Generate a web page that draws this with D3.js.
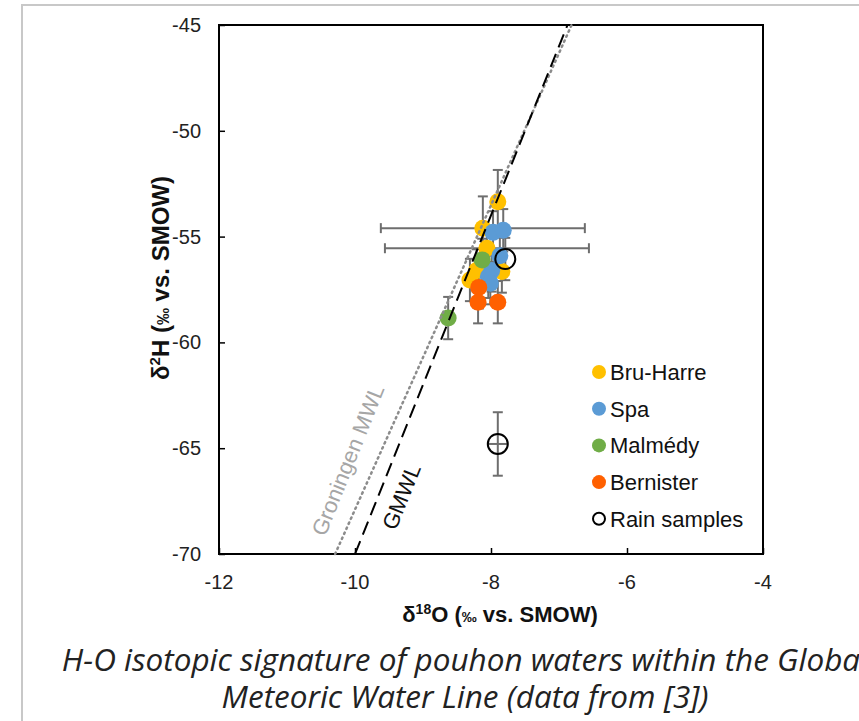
<!DOCTYPE html>
<html lang="en">
<head>
  <meta charset="UTF-8">
  <title>H-O isotopic signature of pouhon waters</title>
  <script src="https://d3js.org/d3.v7.min.js"></script>
  <style>
    body {
      margin: 0;
      background: #fff;
    }
    svg text {
      font-family: "Liberation Sans", Arial, sans-serif;
    }
    .tick-label {
      font-size: 20px;
      fill: #222;
    }
    .axis-title {
      font-weight: bold;
      fill: #111;
    }
    .legend-label {
      font-size: 22px;
      fill: #111;
    }
    .caption {
      font-family: "Open Sans", "Noto Sans", sans-serif;
      font-style: italic;
      font-size: 31.5px;
      fill: #222;
    }
  </style>
</head>
<body>
  <svg width="859" height="721"></svg>

  <script>
    // series: [d18O, d2H, xErr, yErr]
    const bruHarre = [
      [-7.90, -53.35, 0, 1.5],
      [-8.12, -54.6, 1.5, 1.5],
      [-8.06, -55.55, 1.5, 1.0],
      [-8.21, -56.6, 0, 1.0],
      [-8.31, -57.05, 0, 1.0],
      [-7.84, -56.65, 0, 1.0]
    ];
    const spa = [
      [-7.97, -54.8, 0, 1.0],
      [-7.82, -54.7, 0, 1.0],
      [-7.87, -55.9, 0, 1.0],
      [-7.99, -56.6, 0, 1.0],
      [-8.04, -56.9, 0, 1.0],
      [-8.01, -57.2, 0, 1.0]
    ];
    const malmedy = [
      [-8.13, -56.1, 0, 1.0],
      [-8.63, -58.85, 0, 1.0]
    ];
    const bernister = [
      [-8.18, -57.4, 0, 1.0],
      [-8.19, -58.1, 0, 1.0],
      [-7.90, -58.1, 0, 1.0]
    ];
    const rain = [
      [-7.79, -56.06, 0, 1.0],
      [-7.90, -64.8, 0.15, 1.5]
    ];

    const xTicks = [-12, -10, -8, -6, -4];
    const yTicks = [-70, -65, -60, -55, -50, -45];

    // meteoric water lines: slope, intercept
    const gmwl = [8, 10];
    const groningen = [7.19, 4.0];

    const series = [
      {name: "Bru-Harre", data: bruHarre, color: "#ffc000"},
      {name: "Spa", data: spa, color: "#5b9bd5"},
      {name: "Malmédy", data: malmedy, color: "#70ad47"},
      {name: "Bernister", data: bernister, color: "#ff6000"},
      {name: "Rain samples", data: rain, color: null}
    ];

    const svg = d3.select("svg");

    // page frame
    svg.append("rect")
      .attr("x", 22).attr("y", 5)
      .attr("width", 900).attr("height", 800)
      .attr("fill", "none")
      .attr("stroke", "#c8c8c8")
      .attr("stroke-width", 2);

    const x = d3.scaleLinear().domain([-12, -4]).range([219, 763]);
    const y = d3.scaleLinear().domain([-70, -45]).range([554, 25]);

    // axes with inside ticks
    svg.append("g")
      .attr("transform", `translate(0,${y(-70)})`)
      .call(d3.axisBottom(x).tickValues(xTicks).tickSize(-6).tickFormat(""))
      .call(g => g.select(".domain").remove())
      .call(g => g.selectAll("line").attr("stroke", "#000").attr("stroke-width", 1.5));

    svg.append("g")
      .attr("transform", `translate(${x(-12)},0)`)
      .call(d3.axisLeft(y).tickValues(yTicks).tickSize(-6).tickFormat(""))
      .call(g => g.select(".domain").remove())
      .call(g => g.selectAll("line").attr("stroke", "#000").attr("stroke-width", 1.5));

    svg.append("rect")
      .attr("x", x(-12)).attr("y", y(-45))
      .attr("width", x(-4) - x(-12)).attr("height", y(-70) - y(-45))
      .attr("fill", "none")
      .attr("stroke", "#000")
      .attr("stroke-width", 2);

    // tick labels
    svg.selectAll(".xlab")
      .data(xTicks)
      .enter().append("text")
      .attr("class", "tick-label")
      .attr("x", d => x(d))
      .attr("y", 589)
      .attr("text-anchor", "middle")
      .text(d => d);

    svg.selectAll(".ylab")
      .data(yTicks)
      .enter().append("text")
      .attr("class", "tick-label")
      .attr("x", 201)
      .attr("y", d => y(d) + 7)
      .attr("text-anchor", "end")
      .text(d => d);

    // axis titles
    const xt = svg.append("text")
      .attr("class", "axis-title")
      .attr("font-size", 22)
      .attr("x", 500)
      .attr("y", 622)
      .attr("text-anchor", "middle");
    xt.append("tspan").text("δ");
    xt.append("tspan").attr("font-size", 14).attr("dy", -8).text("18");
    xt.append("tspan").attr("dy", 8).text("O  (");
    xt.append("tspan").attr("font-size", 15).text("‰");
    xt.append("tspan").text(" vs. SMOW)");

    const yt = svg.append("text")
      .attr("class", "axis-title")
      .attr("font-size", 24)
      .attr("transform", "translate(169,278) rotate(-90)")
      .attr("text-anchor", "middle");
    yt.append("tspan").text("δ");
    yt.append("tspan").attr("font-size", 15).attr("dy", -9).text("2");
    yt.append("tspan").attr("dy", 9).text("H (");
    yt.append("tspan").attr("font-size", 17).text("‰");
    yt.append("tspan").text(" vs. SMOW)");

    // error bars (behind markers)
    const errG = svg.append("g")
      .attr("stroke", "#6e6e6e")
      .attr("stroke-width", 2);
    const cap = 5;
    series.forEach(s => {
      s.data.forEach(d => {
        if (d[3] > 0) {
          errG.append("line")
            .attr("x1", x(d[0])).attr("x2", x(d[0]))
            .attr("y1", y(d[1] - d[3])).attr("y2", y(d[1] + d[3]));
          [d[1] - d[3], d[1] + d[3]].forEach(v => {
            errG.append("line")
              .attr("x1", x(d[0]) - cap).attr("x2", x(d[0]) + cap)
              .attr("y1", y(v)).attr("y2", y(v));
          });
        }
        if (d[2] > 0) {
          errG.append("line")
            .attr("x1", x(d[0] - d[2])).attr("x2", x(d[0] + d[2]))
            .attr("y1", y(d[1])).attr("y2", y(d[1]));
          if (d[2] > 0.5) {
            [d[0] - d[2], d[0] + d[2]].forEach(v => {
              errG.append("line")
                .attr("x1", x(v)).attr("x2", x(v))
                .attr("y1", y(d[1]) - cap).attr("y2", y(d[1]) + cap);
            });
          }
        }
      });
    });

    // markers
    series.forEach(s => {
      svg.append("g").selectAll("circle")
        .data(s.data)
        .enter().append("circle")
        .attr("cx", d => x(d[0]))
        .attr("cy", d => y(d[1]))
        .attr("r", s.color ? 8.5 : 10)
        .attr("fill", s.color || "none")
        .attr("stroke", s.color ? "none" : "#000")
        .attr("stroke-width", 2);
    });

    // water lines
    const lineFor = (p) => {
      const x0 = (-70 - p[1]) / p[0];
      const x1 = (-45 - p[1]) / p[0];
      return [[x0, -70], [x1, -45]];
    };
    const line = d3.line().x(d => x(d[0])).y(d => y(d[1]));

    svg.append("path")
      .attr("d", line(lineFor(groningen)))
      .attr("fill", "none")
      .attr("stroke", "#8c8c8c")
      .attr("stroke-width", 2.5)
      .attr("stroke-dasharray", "1.5,4")
      .attr("stroke-linecap", "round");

    svg.append("path")
      .attr("d", line(lineFor(gmwl)))
      .attr("fill", "none")
      .attr("stroke", "#000")
      .attr("stroke-width", 2)
      .attr("stroke-dasharray", "14,7");

    const angle = Math.atan2(y(-45) - y(-70), x((-45 - gmwl[1]) / gmwl[0]) - x((-70 - gmwl[1]) / gmwl[0])) * 180 / Math.PI;

    svg.append("text")
      .attr("transform", `translate(355,463) rotate(${angle})`)
      .attr("text-anchor", "middle")
      .attr("font-size", 22)
      .attr("fill", "#a6a6a6")
      .text("Groningen MWL");

    svg.append("text")
      .attr("transform", `translate(402,497) rotate(${angle})`)
      .attr("text-anchor", "middle")
      .attr("dy", 7)
      .attr("font-size", 22)
      .attr("fill", "#111")
      .text("GMWL");

    // legend
    const legend = svg.append("g");
    series.forEach((s, i) => {
      const ly = 372 + i * 36.7;
      legend.append("circle")
        .attr("cx", 599).attr("cy", ly)
        .attr("r", s.color ? 7 : 6)
        .attr("fill", s.color || "none")
        .attr("stroke", s.color ? "none" : "#000")
        .attr("stroke-width", 2);
      legend.append("text")
        .attr("class", "legend-label")
        .attr("x", 610).attr("y", ly + 8)
        .text(s.name);
    });

    // caption
    svg.append("text")
      .attr("class", "caption")
      .attr("x", 465).attr("y", 671)
      .attr("text-anchor", "middle")
      .text("H-O isotopic signature of pouhon waters within the Global");
    svg.append("text")
      .attr("class", "caption")
      .attr("x", 465).attr("y", 708)
      .attr("text-anchor", "middle")
      .text("Meteoric Water Line (data from [3])");
  </script>
</body>
</html>
